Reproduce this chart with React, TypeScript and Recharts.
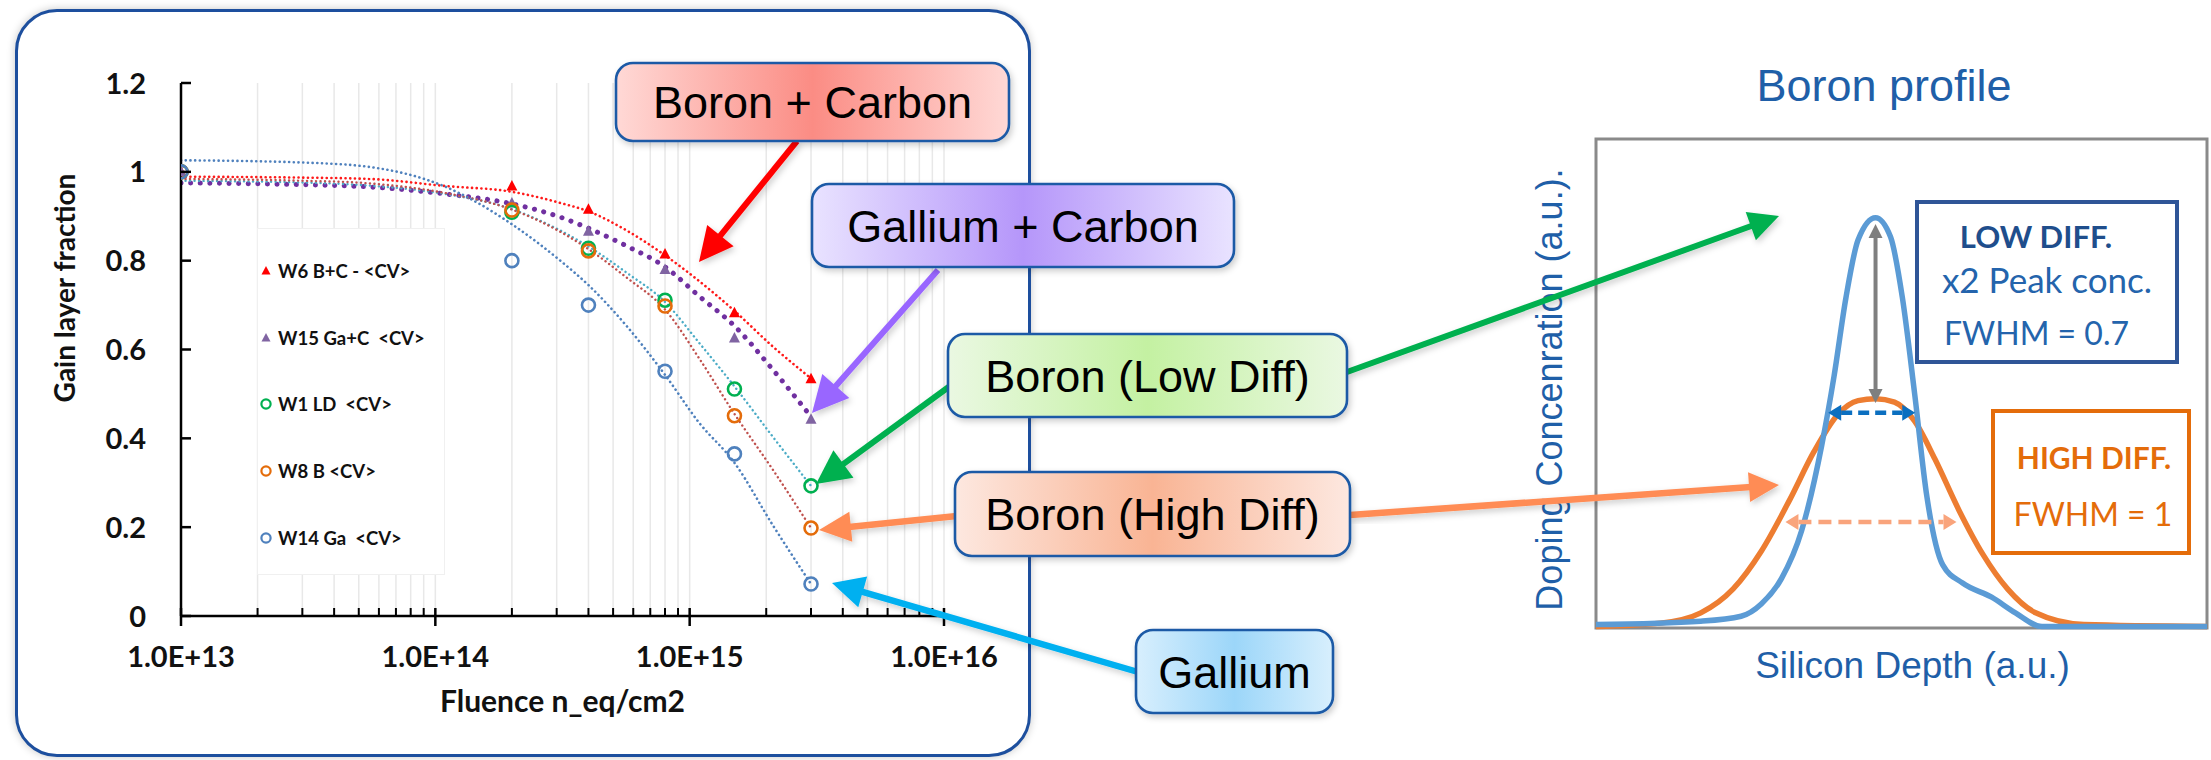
import React from 'react';
import {
  ComposedChart,
  LineChart,
  Line,
  Scatter,
  XAxis,
  YAxis,
  CartesianGrid,
  ReferenceLine,
  ReferenceArea,
  Label,
} from 'recharts';

// ---------------- Left chart: gain layer fraction vs fluence ----------------
const fluence = [1e13, 2e14, 4e14, 8e14, 1.5e15, 3e15];
const w6BC = [1.0, 0.968, 0.916, 0.815, 0.683, 0.534];
const w15GaC = [1.0, 0.93, 0.866, 0.78, 0.626, 0.443];
const w1LD = [1.0, 0.909, 0.828, 0.711, 0.511, 0.293];
const w8B = [1.0, 0.914, 0.822, 0.698, 0.451, 0.198];
const w14Ga = [1.0, 0.8, 0.7, 0.551, 0.365, 0.072];

// dotted trend curves
const trendFluence = [1e13, 3e13, 5.5e13, 1.1e14, 2e14, 3.1e14, 4e14, 5.65e14, 8e14, 1.09e15, 1.5e15, 2.12e15, 3e15];
const w6Trend = [0.989, 0.987, 0.984, 0.968, 0.955, 0.93, 0.911, 0.868, 0.812, 0.754, 0.687, 0.607, 0.535];
const w15Trend = [0.975, 0.971, 0.966, 0.95, 0.928, 0.898, 0.873, 0.833, 0.786, 0.72, 0.653, 0.555, 0.449];
const w1Trend = [0.98, 0.976, 0.969, 0.95, 0.916, 0.868, 0.832, 0.773, 0.707, 0.615, 0.517, 0.404, 0.293];
const w8Trend = [0.984, 0.98, 0.974, 0.952, 0.915, 0.865, 0.826, 0.762, 0.69, 0.58, 0.455, 0.33, 0.198];
const w14Trend = [1.026, 1.021, 1.011, 0.966, 0.882, 0.8, 0.745, 0.653, 0.543, 0.435, 0.345, 0.205, 0.072];

const xMajorTicks = [1e13, 1e14, 1e15, 1e16];
const xMajorLabels = ['1.0E+13', '1.0E+14', '1.0E+15', '1.0E+16'];
const xMinorMultipliers = [2, 3, 4, 5, 6, 7, 8, 9];
const yTicks = [0, 0.2, 0.4, 0.6, 0.8, 1, 1.2];
const yTickLabels = ['0', '0.2', '0.4', '0.6', '0.8', '1', '1.2'];

const legendLabels = ['W6 B+C - <CV>', 'W15 Ga+C  <CV>', 'W1 LD  <CV>', 'W8 B <CV>', 'W14 Ga  <CV>'];

// ---------------- Right chart: boron profile ----------------
const depthBlue = [0, 3.43, 4.75, 5.41, 6.07, 6.73, 7.39, 7.79, 8.18, 8.58, 9.15, 9.64, 10.03, 10.43, 10.83, 11.35, 12.0, 12.95, 13.73, 14.6, 20];
const concBlue = [0.007, 0.014, 0.024, 0.049, 0.101, 0.199, 0.374, 0.514, 0.675, 0.794, 0.839, 0.8, 0.675, 0.479, 0.269, 0.129, 0.092, 0.063, 0.031, 0.003, 0.003];
const depthOrange = [0, 2.11, 3.43, 4.49, 5.41, 6.34, 7.13, 7.92, 8.58, 9.15, 9.77, 10.43, 11.09, 11.88, 12.67, 13.47, 14.39, 15.97, 20];
const concOrange = [0.003, 0.01, 0.031, 0.08, 0.157, 0.262, 0.36, 0.437, 0.465, 0.469, 0.462, 0.423, 0.346, 0.241, 0.15, 0.08, 0.031, 0.007, 0.003];
const depthColumns = 20;
const concRows = 34;

// ---------------- styles ----------------
const markerColors = ['#ff0000', '#8064a2', '#00b050', '#e46c0a', '#4f81bd'];
const markerKinds = ['triangle', 'triangle', 'circle', 'circle', 'circle'];
const trendColors = ['#ff1a1a', '#7030a0', '#4bacc6', '#c0504d', '#4f81bd'];
const CHART_FONT = 'Lato, "Open Sans", sans-serif';
const ARIAL = '"Liberation Sans", Arial, sans-serif';

const zipXY = (xs: number[], ys: number[]) => xs.map((x, i) => ({ x, y: ys[i] }));

const seriesValues = [w6BC, w15GaC, w1LD, w8B, w14Ga];
const trendValues = [w6Trend, w15Trend, w1Trend, w8Trend, w14Trend];

const allXTicks = (() => {
  const t: number[] = [];
  [1e13, 1e14, 1e15].forEach((d) => {
    t.push(d);
    xMinorMultipliers.forEach((m) => t.push(m * d));
  });
  t.push(1e16);
  return t;
})();

const XTick = (props: any) => {
  const { x, y, payload } = props;
  const idx = xMajorTicks.indexOf(payload.value);
  if (idx >= 0) {
    return (
      <g>
        <line x1={x} x2={x} y1={y - 8} y2={y + 10} stroke="#000" strokeWidth={2.5} />
        <text x={x} y={y + 51} textAnchor="middle" fontFamily={CHART_FONT} fontWeight={700} fontSize={29} fill="#111">
          {xMajorLabels[idx]}
        </text>
      </g>
    );
  }
  return <line x1={x} x2={x} y1={y - 8} y2={y} stroke="#000" strokeWidth={2} />;
};

const YTick = (props: any) => {
  const { x, y, payload } = props;
  const idx = yTicks.indexOf(payload.value);
  return (
    <g>
      <line x1={x} x2={x + 10} y1={y} y2={y} stroke="#000" strokeWidth={2.5} />
      <text x={x - 35} y={y + 10.5} textAnchor="end" fontFamily={CHART_FONT} fontWeight={700} fontSize={29} fill="#111">
        {yTickLabels[idx]}
      </text>
    </g>
  );
};

const hollowCircle = (color: string) => (p: any) =>
  <circle cx={p.cx} cy={p.cy} r={6.5} fill="none" stroke={color} strokeWidth={2.6} />;
const triangle = (color: string) => (p: any) =>
  <polygon points={`${p.cx},${p.cy - 6} ${p.cx + 5.5},${p.cy + 4.5} ${p.cx - 5.5},${p.cy + 4.5}`} fill={color} />;

const dotStyles = [
  { w: 2.6, d: '0.1 4.6' },
  { w: 5, d: '0.1 9.5' },
  { w: 2.4, d: '0.1 4.4' },
  { w: 2.4, d: '0.1 4.4' },
  { w: 2.6, d: '0.1 4.6' },
];

function LeftChart() {
  return (
    <ComposedChart width={1040} height={760} margin={{ top: 83, right: 96, bottom: 84, left: 91 }}>
      <CartesianGrid horizontal={false} stroke="#e8e8e8" strokeWidth={1.5} />
      <XAxis
        dataKey="x"
        type="number"
        scale="log"
        domain={[1e13, 1e16]}
        ticks={allXTicks}
        interval={0}
        tick={<XTick />}
        tickLine={false}
        tickSize={0}
        tickMargin={0}
        axisLine={{ stroke: '#000', strokeWidth: 2.5 }}
        height={60}
        allowDataOverflow
        label={
          <Label
            content={(p: any) => (
              <text
                x={p.viewBox.x + p.viewBox.width / 2}
                y={p.viewBox.y + 96}
                textAnchor="middle"
                fontFamily={CHART_FONT}
                fontWeight={700}
                fontSize={30}
                fill="#111"
              >
                Fluence n_eq/cm2
              </text>
            )}
          />
        }
      />
      <YAxis
        dataKey="y"
        type="number"
        domain={[0, 1.2]}
        ticks={yTicks}
        interval={0}
        tick={<YTick />}
        tickLine={false}
        tickSize={0}
        tickMargin={0}
        axisLine={{ stroke: '#000', strokeWidth: 2.5 }}
        width={90}
        allowDataOverflow
        label={
          <Label
            content={(p: any) => {
              const lx = p.viewBox.x - 16;
              const ly = p.viewBox.y + 205;
              return (
                <text
                  x={lx}
                  y={ly}
                  transform={`rotate(-90 ${lx} ${ly})`}
                  textAnchor="middle"
                  fontFamily={CHART_FONT}
                  fontWeight={700}
                  fontSize={28}
                  fill="#111"
                >
                  Gain layer fraction
                </text>
              );
            }}
          />
        }
      />
      {trendValues.map((vals, i) => (
        <Line
          key={'t' + i}
          data={zipXY(trendFluence, vals)}
          dataKey="y"
          type="monotone"
          stroke={trendColors[i]}
          strokeWidth={dotStyles[i].w}
          strokeDasharray={dotStyles[i].d}
          strokeLinecap="round"
          dot={false}
          activeDot={false}
          isAnimationActive={false}
        />
      ))}
      {seriesValues.map((vals, i) => (
        <Scatter
          key={'s' + i}
          data={zipXY(fluence, vals)}
          dataKey="y"
          shape={markerKinds[i] === 'triangle' ? triangle(markerColors[i]) : hollowCircle(markerColors[i])}
          isAnimationActive={false}
        />
      ))}
    </ComposedChart>
  );
}

function LegendBox() {
  const rowsY = [42, 109, 175, 242, 309];
  return (
    <div
      style={{
        position: 'absolute',
        left: 257,
        top: 228,
        width: 188,
        height: 347,
        background: '#fff',
        border: '1px solid #f0f0f0',
        boxSizing: 'border-box',
      }}
    >
      <svg width={188} height={347} style={{ position: 'absolute', left: 0, top: 0 }}>
        {legendLabels.map((lab, i) => {
          const cy = rowsY[i];
          const c = markerColors[i];
          return (
            <g key={i}>
              {markerKinds[i] === 'triangle' ? (
                <polygon points={`8,${cy - 5} 12.5,${cy + 3.5} 3.5,${cy + 3.5}`} fill={c} />
              ) : (
                <circle cx={8} cy={cy} r={4.6} fill="none" stroke={c} strokeWidth={2.2} />
              )}
              <text
                x={20}
                y={cy + 6.5}
                fontFamily={CHART_FONT}
                fontWeight={700}
                fontSize={18.5}
                fill="#111"
                style={{ whiteSpace: 'pre' }}
              >
                {lab}
              </text>
            </g>
          );
        })}
      </svg>
    </div>
  );
}

// ------- right chart ---------
const depthTicks = Array.from({ length: depthColumns + 1 }, (_, i) => i);
const concTicks = Array.from({ length: concRows + 1 }, (_, i) => i / concRows);

const arrowShape = (color: string, width: number, dash: string | undefined, head: number, half: number) => (p: any) => {
  const { x1, y1, x2, y2 } = p;
  const dx = x2 - x1;
  const dy = y2 - y1;
  const len = Math.hypot(dx, dy) || 1;
  const ux = dx / len;
  const uy = dy / len;
  const px = -uy;
  const py = ux;
  const ax = x1 + ux * head;
  const ay = y1 + uy * head;
  const bx = x2 - ux * head;
  const by = y2 - uy * head;
  return (
    <g>
      <line x1={ax} y1={ay} x2={bx} y2={by} stroke={color} strokeWidth={width} strokeDasharray={dash} />
      <polygon points={`${x2},${y2} ${bx + px * half},${by + py * half} ${bx - px * half},${by - py * half}`} fill={color} />
      <polygon points={`${x1},${y1} ${ax + px * half},${ay + py * half} ${ax - px * half},${ay - py * half}`} fill={color} />
    </g>
  );
};

function RightChart() {
  return (
    <LineChart width={731} height={760} margin={{ top: 139, right: 4, bottom: 72, left: 0 }}>
      <CartesianGrid stroke="#d4d4d4" strokeWidth={2} />
      <XAxis
        dataKey="x"
        type="number"
        domain={[0, depthColumns]}
        ticks={depthTicks}
        interval={0}
        tick={false}
        tickLine={false}
        axisLine={false}
        height={60}
        label={
          <Label
            content={(p: any) => (
              <text
                x={p.viewBox.x + p.viewBox.width / 2 + 11}
                y={p.viewBox.y + 50}
                textAnchor="middle"
                fontFamily={ARIAL}
                fontSize={37}
                fill="#1f5fa8"
              >
                Silicon Depth (a.u.)
              </text>
            )}
          />
        }
      />
      <YAxis
        dataKey="y"
        type="number"
        domain={[0, 1]}
        ticks={concTicks}
        interval={0}
        tick={false}
        tickLine={false}
        axisLine={false}
        width={116}
        label={
          <Label
            content={(p: any) => {
              const lx = p.viewBox.x + 82;
              const ly = p.viewBox.y + p.viewBox.height / 2 + 6;
              return (
                <text
                  x={lx}
                  y={ly}
                  transform={`rotate(-90 ${lx} ${ly})`}
                  textAnchor="middle"
                  fontFamily={ARIAL}
                  fontSize={36}
                  fill="#1f5fa8"
                >
                  Doping Concenration (a.u.).
                </text>
              );
            }}
          />
        }
      />
      <ReferenceArea x1={0} x2={depthColumns} y1={0} y2={1} fill="none" stroke="#8a8a8a" strokeWidth={3} />
      <Line
        data={zipXY(depthOrange, concOrange)}
        dataKey="y"
        type="monotone"
        stroke="#ed7d31"
        strokeWidth={5.5}
        dot={false}
        activeDot={false}
        isAnimationActive={false}
      />
      <Line
        data={zipXY(depthBlue, concBlue)}
        dataKey="y"
        type="monotone"
        stroke="#5b9bd5"
        strokeWidth={5.5}
        dot={false}
        activeDot={false}
        isAnimationActive={false}
      />
      <ReferenceLine
        segment={[{ x: 9.15, y: 0.46 }, { x: 9.15, y: 0.826 }]}
        shape={arrowShape('#7f7f7f', 4, undefined, 14, 7)}
      />
      <ReferenceLine
        segment={[{ x: 7.6, y: 0.44 }, { x: 10.45, y: 0.44 }]}
        shape={arrowShape('#0b6fc0', 4.5, '11 6', 13, 8)}
      />
      <ReferenceLine
        segment={[{ x: 6.2, y: 0.217 }, { x: 11.8, y: 0.217 }]}
        shape={arrowShape('#f9a47c', 4.5, '13 7', 13, 8)}
      />
    </LineChart>
  );
}

// ------- annotations overlay -------
type Box = { x: number; y: number; w: number; h: number; text: string; id: string; edge: string; mid: string };
const boxes: Box[] = [
  { x: 616, y: 63, w: 393, h: 78, text: 'Boron + Carbon', id: 'gBC', edge: '#ffd9d6', mid: '#fb8c84' },
  { x: 812, y: 184, w: 422, h: 83, text: 'Gallium + Carbon', id: 'gGC', edge: '#e9e3ff', mid: '#b596fa' },
  { x: 948, y: 334, w: 399, h: 83, text: 'Boron (Low Diff)', id: 'gLD', edge: '#eaf8e2', mid: '#c4f1a2' },
  { x: 955, y: 472, w: 395, h: 84, text: 'Boron (High Diff)', id: 'gHD', edge: '#fde8e0', mid: '#f9b494' },
  { x: 1136, y: 630, w: 197, h: 83, text: 'Gallium', id: 'gGa', edge: '#d8effd', mid: '#9cd6f9' },
];

type Arr = { x1: number; y1: number; x2: number; y2: number; color: string; w: number; head: number; half: number };
const arrows: Arr[] = [
  { x1: 797, y1: 141, x2: 699, y2: 262, color: '#ff0000', w: 6, head: 34, half: 17 },
  { x1: 938, y1: 270, x2: 812, y2: 413, color: '#9966ff', w: 6, head: 36, half: 18 },
  { x1: 950, y1: 386, x2: 816, y2: 484, color: '#00b050', w: 6, head: 34, half: 17 },
  { x1: 1347, y1: 372, x2: 1779, y2: 216, color: '#00b050', w: 6, head: 30, half: 15 },
  { x1: 957, y1: 516, x2: 819, y2: 530, color: '#ff8c55', w: 6.5, head: 32, half: 15 },
  { x1: 1350, y1: 515, x2: 1779, y2: 485, color: '#ff8c55', w: 6.5, head: 30, half: 15 },
  { x1: 1138, y1: 672, x2: 832, y2: 583, color: '#00b0f0', w: 6.5, head: 32, half: 16 },
];

function ArrowEl({ a }: { a: Arr }) {
  const dx = a.x2 - a.x1;
  const dy = a.y2 - a.y1;
  const len = Math.hypot(dx, dy);
  const ux = dx / len;
  const uy = dy / len;
  const bx = a.x2 - ux * a.head;
  const by = a.y2 - uy * a.head;
  const px = -uy;
  const py = ux;
  return (
    <g filter="url(#shadowSoft)">
      <line x1={a.x1} y1={a.y1} x2={bx + ux * 2} y2={by + uy * 2} stroke={a.color} strokeWidth={a.w} />
      <polygon
        points={`${a.x2},${a.y2} ${bx + px * a.half},${by + py * a.half} ${bx - px * a.half},${by - py * a.half}`}
        fill={a.color}
      />
    </g>
  );
}

function Overlay() {
  return (
    <svg width={2211} height={760} style={{ position: 'absolute', left: 0, top: 0, pointerEvents: 'none' }}>
      <defs>
        <filter id="shadowSoft" x="-20%" y="-20%" width="140%" height="140%">
          <feDropShadow dx="2" dy="3" stdDeviation="3" floodColor="#000" floodOpacity="0.2" />
        </filter>
        {boxes.map((b) => (
          <linearGradient key={b.id} id={b.id} x1="0" x2="1" y1="0" y2="0">
            <stop offset="0" stopColor={b.edge} />
            <stop offset="0.5" stopColor={b.mid} />
            <stop offset="1" stopColor={b.edge} />
          </linearGradient>
        ))}
      </defs>
      {arrows.map((a, i) => (
        <ArrowEl key={i} a={a} />
      ))}
      {boxes.map((b) => (
        <g key={b.id}>
          <rect
            x={b.x}
            y={b.y}
            width={b.w}
            height={b.h}
            rx={17}
            ry={17}
            fill={`url(#${b.id})`}
            stroke="#1c5aa6"
            strokeWidth={2.6}
            filter="url(#shadowSoft)"
          />
          <text
            x={b.x + b.w / 2}
            y={b.y + b.h / 2 + 16}
            textAnchor="middle"
            fontFamily={ARIAL}
            fontSize={45}
            fill="#000"
          >
            {b.text}
          </text>
        </g>
      ))}
      {/* right chart title and boxes */}
      <text x={1884} y={101} textAnchor="middle" fontFamily={ARIAL} fontSize={45} fill="#1f5fa8">
        Boron profile
      </text>
      <rect x={1917} y={202} width={260} height={160} fill="#fff" stroke="#2f5597" strokeWidth={4} />
      <text x={2036} y={248} textAnchor="middle" fontFamily={CHART_FONT} fontWeight={700} fontSize={31} fill="#1f4e8c">
        LOW DIFF.
      </text>
      <text x={2047} y={293} textAnchor="middle" fontFamily={CHART_FONT} fontSize={35} fill="#2464ac">
        x2 Peak conc.
      </text>
      <text x={1944} y={345} fontFamily={CHART_FONT} fontSize={32} fill="#2464ac">
        FWHM = 0.7
      </text>
      <rect x={1993} y={411} width={196} height={142} fill="#fff" stroke="#e46c0a" strokeWidth={4} />
      <text x={2094} y={469} textAnchor="middle" fontFamily={CHART_FONT} fontWeight={700} fontSize={30} fill="#e46c0a">
        HIGH DIFF.
      </text>
      <text x={2093} y={526} textAnchor="middle" fontFamily={CHART_FONT} fontSize={32} fill="#e46c0a">
        FWHM = 1
      </text>
    </svg>
  );
}

export default function App() {
  return (
    <div
      style={{
        position: 'absolute',
        left: 0,
        top: 0,
        width: 2211,
        height: 760,
        overflow: 'hidden',
        background: '#fff',
      }}
    >
      <div
        style={{
          position: 'absolute',
          left: 15,
          top: 9,
          width: 1016,
          height: 748,
          boxSizing: 'border-box',
          border: '3px solid #1d4f9e',
          borderRadius: 42,
          background: '#fff',
          boxShadow: '0 0 9px rgba(0,0,0,0.22)',
        }}
      />
      <div style={{ position: 'absolute', left: 0, top: 0 }}>
        <LeftChart />
      </div>
      <LegendBox />
      <div style={{ position: 'absolute', left: 1480, top: 0 }}>
        <RightChart />
      </div>
      <Overlay />
    </div>
  );
}
